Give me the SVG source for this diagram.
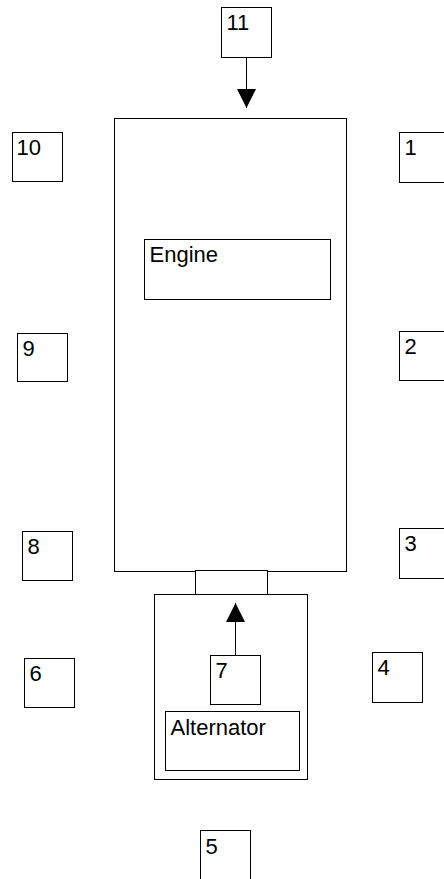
<svg xmlns="http://www.w3.org/2000/svg" width="444" height="879" viewBox="0 0 444 879">
<style>
rect { fill: #fff; stroke: #000; stroke-width: 1; }
text { font-family: "Liberation Sans", Arial, sans-serif; font-size: 22px; fill: #000; }
.conn { stroke: #000; stroke-width: 1; fill: none; }
</style>
<defs>
<marker id="arrow" markerUnits="userSpaceOnUse" viewBox="0 0 19 19" refX="19" refY="9.5" markerWidth="19" markerHeight="19" orient="auto">
<path d="M0,0 L19,9.5 L0,19 z" fill="#000"/>
</marker>
</defs>
<rect width="444" height="879" style="fill:#fff;stroke:none"/>
<g id="engine">
<rect x="114.5" y="118.5" width="232" height="453"/>
</g>
<g id="engine-label">
<rect x="144.5" y="239.5" width="186" height="60"/>
<text x="149.5" y="262">Engine</text>
</g>
<g id="coupling">
<rect x="195.5" y="570.5" width="72" height="24"/>
</g>
<g id="alternator">
<rect x="154.5" y="594.5" width="153" height="185"/>
</g>
<g id="alternator-label">
<rect x="165.5" y="711.5" width="134" height="59"/>
<text x="170.5" y="735">Alternator</text>
</g>
<g id="n11"><rect x="221.5" y="7.5" width="50" height="50"/><text x="226.5" y="30">11</text></g>
<g id="n10"><rect x="12.5" y="132.5" width="50" height="49"/><text x="16.5" y="155">10</text></g>
<g id="n1"><rect x="399.5" y="132.5" width="50" height="50"/><text x="404.5" y="155">1</text></g>
<g id="n9"><rect x="17.5" y="333.5" width="50" height="48"/><text x="22.5" y="356">9</text></g>
<g id="n2"><rect x="399.5" y="331.5" width="50" height="49"/><text x="404.5" y="354">2</text></g>
<g id="n8"><rect x="22.5" y="531.5" width="50" height="49"/><text x="27.5" y="554">8</text></g>
<g id="n3"><rect x="399.5" y="528.5" width="50" height="50"/><text x="404.5" y="551">3</text></g>
<g id="n6"><rect x="24.5" y="658.5" width="50" height="49"/><text x="29.5" y="681">6</text></g>
<g id="n4"><rect x="372.5" y="652.5" width="50" height="50"/><text x="377.5" y="675">4</text></g>
<g id="n7"><rect x="210.5" y="655.5" width="50" height="49"/><text x="215.5" y="678">7</text></g>
<g id="n5"><rect x="200.5" y="830.5" width="50" height="50"/><text x="205.5" y="854">5</text></g>
<g id="connectors">
<line class="conn" x1="246.5" y1="57.5" x2="246.5" y2="108" marker-end="url(#arrow)"/>
<line class="conn" x1="235.5" y1="655.5" x2="235.5" y2="603" marker-end="url(#arrow)"/>
</g>
</svg>
